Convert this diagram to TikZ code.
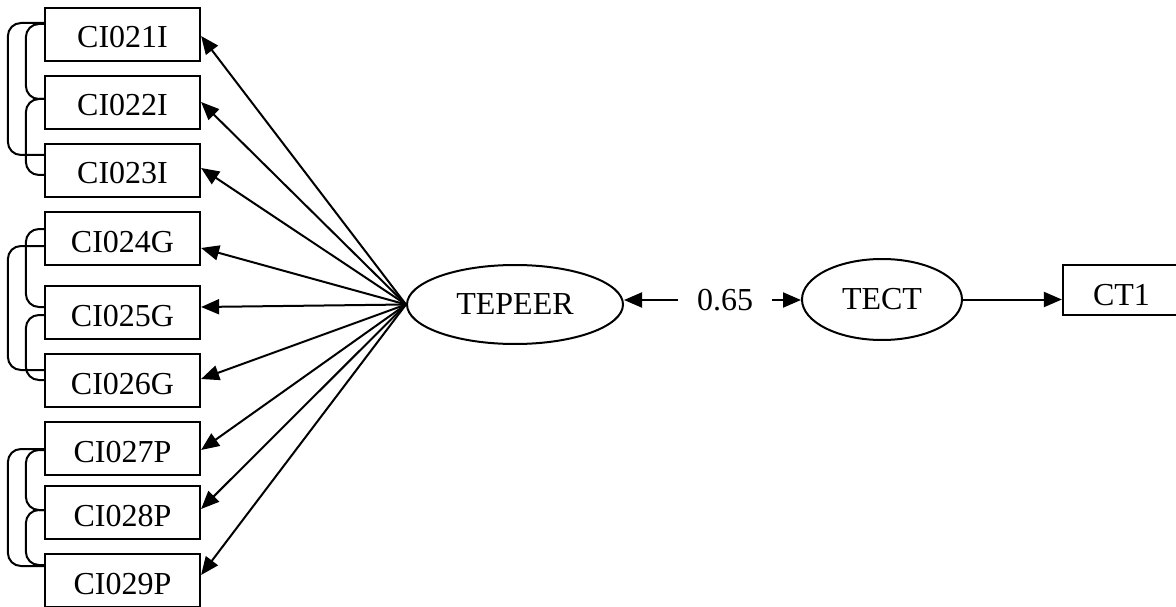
\documentclass[tikz,border=0pt]{standalone}
\usepackage{fontspec}
\setmainfont{Liberation Serif}
\usetikzlibrary{arrows.meta,calc,shapes.geometric}
\begin{document}
\begin{tikzpicture}[x=1pt,y=-1pt,
  every node/.style={font=\fontsize{32}{38}\selectfont},
  item/.style={draw, line width=2.2pt, minimum width=155pt, minimum height=53pt, inner sep=0pt,
    text height=27pt, text depth=0pt},
  latent/.style={draw, ellipse, line width=2pt, inner sep=0pt},
  path/.style={line width=2pt, -{Triangle[length=18pt,width=15pt]}},
  brace/.style={line width=2pt, rounded corners=13pt}]
\useasboundingbox (0,0) rectangle (1176,607);
\clip (0,0) rectangle (1176,607);

% observed indicators
\node[item] (c1) at (122.5,34.5)  {CI021I};
\node[item] (c2) at (122.5,102.5) {CI022I};
\node[item] (c3) at (122.5,170.5) {CI023I};
\node[item] (c4) at (122.5,238.5) {CI024G};
\node[item] (c5) at (122.5,312.5) {CI025G};
\node[item] (c6) at (122.5,380.5) {CI026G};
\node[item] (c7) at (122.5,448.5) {CI027P};
\node[item] (c8) at (122.5,512.5) {CI028P};
\node[item] (c9) at (122.5,580.5) {CI029P};

% latent factors
\node[latent, minimum width=216pt, minimum height=79pt] (tepeer) at (515,304.5) {TEPEER};
\node[latent, minimum width=160pt, minimum height=81pt] (tect) at (882,299.5) {TECT};
\node[item, minimum width=117pt, minimum height=50pt, text height=30pt] (ct1) at (1121.5,290) {CT1};
\node[inner xsep=19pt, inner ysep=2pt] (lbl) at (725,300) {0.65};

% loadings
\foreach \n/\dy in {1/1.5, 2/-0.5, 3/-2.5, 4/9.5, 5/-5.5, 6/-1.5, 7/1.5, 8/-3.5, 9/-5.5}
  \draw[path] (tepeer.west) -- ($(c\n.east)+(0,\dy)$);

% correlation between factors
\draw[path] (lbl.west) -- (tepeer.east |- lbl.west);
\draw[path] (lbl.east) -- (tect.west |- lbl.east);
\draw[path] (tect.east) -- (ct1.west |- tect.east);

% correlated errors, group I
\draw[brace] ($(c1.west)+(0,-11.5)$) -- ++(-36,0) |- ($(c3.west)+(0,-15.5)$);
\draw[brace] ($(c1.west)+(0,-10.5)$) -- ++(-18,0) |- ($(c2.west)+(0,-3.5)$);
\draw[brace] ($(c2.west)+(0,-3.5)$) -- ++(-18,0) |- ($(c3.west)+(0,4.5)$);

% correlated errors, group G
\draw[brace] ($(c4.west)+(0,-9.5)$) -- ++(-18,0) |- ($(c5.west)+(0,-5.5)$);
\draw[brace] ($(c4.west)+(0,7.5)$) -- ++(-36,0) |- ($(c6.west)+(0,-10.5)$);
\draw[brace] ($(c5.west)+(0,2.5)$) -- ++(-18,0) |- ($(c6.west)+(0,-0.5)$);

% correlated errors, group P
\draw[brace] ($(c7.west)+(0,0.5)$) -- ++(-36,0) |- ($(c9.west)+(0,-14.5)$);
\draw[brace] ($(c7.west)+(0,1.5)$) -- ++(-18,0) |- ($(c8.west)+(0,-2.5)$);
\draw[brace] ($(c8.west)+(0,-2.5)$) -- ++(-18,0) |- ($(c9.west)+(0,-15.5)$);
\end{tikzpicture}
\end{document}
